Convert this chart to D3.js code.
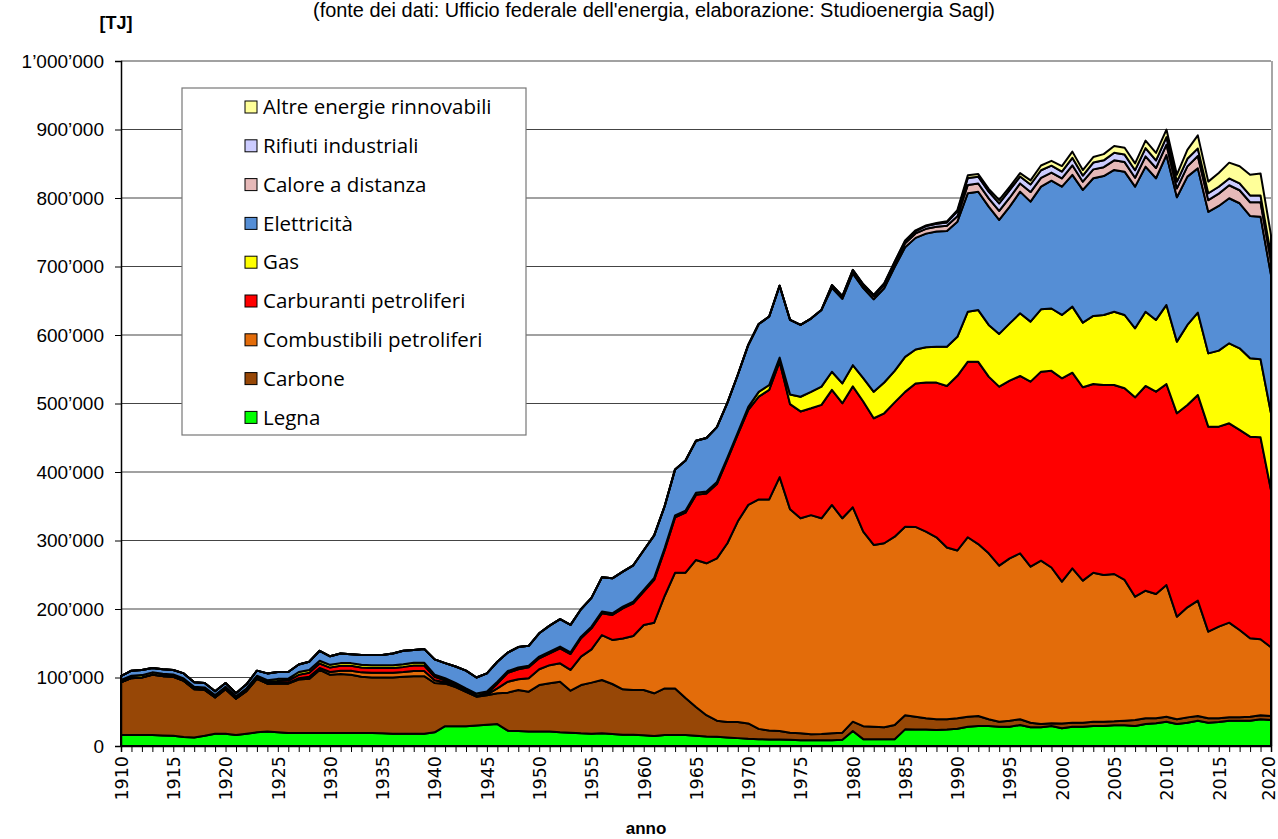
<!DOCTYPE html>
<html><head><meta charset="utf-8">
<script src="https://cdn.jsdelivr.net/npm/d3@7"></script>
<style>body{margin:0;background:#fff} svg{display:block}</style>
</head><body>
<svg id="chart" width="1278" height="839"></svg>
<script>
// values in thousand TJ
const years = d3.range(1910, 2021);
const legna = [16,16,16,16,15.5,15,13,12.5,15,18, 18,16,18,20,21,20,19,19,19,19, 19,19,19,19,19,18.5,18,18,18,18,
 20,29,29,29,30,31,32,22.4,22,21, 21,21,20,19.5,18.5,18,18.5,17.5,16.5,16.5, 15.6,14.6,16,16,16,15,14,13.5,12.5,11.5,
 10.5,10,9.5,9.5,9,8.5,8.5,8.5,8.5,9, 22,10,10,10,10,24.3,24,24,23.5,24, 25.3,28.2,29.2,29.2,28.2,28.2,30.7,27.3,27.3,29.2,
 25.8,28.2,28.2,29.2,29.2,30.2,30.2,29.2,32.1,33.1, 35.5,32.1,34,37,34,35,37,37,37,39,38];
const carbone = [77,83,84,88,86.5,86,82,70.5,67,53, 65,53,62,78,70,71,72,78,79,92, 85,86,85,82,81,81.5,82,83,84,84,
 72,62,57,50,42,43,45,55.5,59.8,58.3, 68,70.5,73.9,61.3,70.5,74.5,77.9,73,66.2,65.3, 66.2,62.3,68,68,54,42,31,23.5,22.5,23.5,
 22.5,15,13,12.5,10.5,10,8.5,9,10,10.5, 13.5,19,18.2,17.3,20.7,20.7,18.8,16.4,15.4,14.9, 15.1,14.6,14.6,9.8,7.3,8.8,8.3,6.7,4.7,4,
 7.2,5.8,5.8,6.3,6.3,5.8,6.8,8.8,8.3,7.3, 7.3,6.9,7.8,6.8,6.4,5.4,4.8,4.8,5.8,6,5.8];
const combustibili = [0,0,0,0,0,0,0,0,0,0, 0,0,0,0,0,1,1,2,3,3, 4,5,6,6.5,7,7,7,7,7.5,7.5,
 4,2,1,0.5,0.5,1,7,16,15.5,19.5, 23,26.5,26.8,30.2,41.4,48.5,65.6,64.3,74.3,78.8, 94.9,103.1,135,169,183,214.6,221.7,237,261,293,
 319,335,337.5,370.5,326,313.9,320,314.9,333.4,312.9, 313,284,265.3,268.7,274.9,275,277,272.6,265.8,251,
 245,262,251,242.3,227.8,237,242.3,227.8,238.6,227.4, 206.9,225.4,207.4,217.5,214.2,215.1,205.4,180,186.3,181.5,
 192.2,149.8,160.7,168.4,126.5,133.8,138.3,127.6,114.4,110.8,100.3];
const carburanti = [0.5,0.5,0.5,0.5,0.5,0.5,0.5,0.5,0.5,0.5, 0.5,0.5,1,1.5,2,3,3.5,5,6,6.5, 6.5,7,7,7,7,7,7,7.5,8,8,
 5,3,2,1.5,1,1.5,7,13,14.7,16, 16,17.3,22,23.3,26.8,30.8,31.7,36.5,44,47.7, 48.6,62.4,67,80.8,87.7,95,102,108.5,122,127,
 138.6,150,160,168.5,153.5,156,156,165.6,168,168, 176.5,190,185,189.7,196,197,209.5,217.5,225.8,235.6,
 255,256.3,266,257.9,261.3,259.4,258.9,270.1,275.9,287.1, 296.9,285.6,282.3,275.5,277.3,275.9,279.8,291,298.9,295.4,
 293.5,296.9,295.4,300.3,299.3,292,291,292,294.4,294.8,229.7];
const gas = [3,3,3,3,3,3,3,3,3,3, 3,3,3,3,3,3,3,4,4,4, 4,4,4,4,4,4,4,4,4,4,
 3,3,3,3,3,3,3,2.5,2.5,2.5, 2.5,2.5,2.5,2.5,2.5,2.5,2.5,2.5,2.5,2.5, 2.5,3,3,3,3,3,3,3,3,3,
 4.4,7,7,6,14,21.5,24,26.6,26.5,29, 31,34,38.6,45,46,51,49.5,51.5,52.5,57.4,
 57,73,75.6,75.5,77,83.6,91.5,87.6,91,91, 92.5,96.4,94.3,99.3,102.3,107,107,100.8,108.4,104.7,
 115.4,104.6,116.8,120.2,107,111,116.8,119.2,114.4,114,111.9];
const elettricita = [5.5,7.5,7.5,6.5,6.5,6.5,7.5,6.5,6.5,5.5, 5.5,4.5,6,7.5,10,10,9.5,11,12,14.5, 12.5,14,13,14.5,15,15,17,19.5,18.5,20,
 22.5,22,24,26,23.5,26.5,29,27,30,29, 34,38,40,40,40,42,50,51,51,53, 58,62,61,67,73,76,78,80,80,84,
 90.5,99,100,105,109,105,107,112,122.5,123.5, 134,131.5,135,137.5,151.5,160,163,166,168,169,
 168,173,172.7,172.7,166.5,170.4,177.6,175.2,179,186.5, 187.3,192.3,193.8,201,202.7,207,209.2,206.8,211.8,206.8,
 219,210.7,216.5,210.7,206.7,211.2,211.7,211.7,207.8,208.2,202];
const zeros68 = Array(68).fill(0);
const calore = zeros68.concat([3,3,4,4,4.5,5,5,6,6.5,7,7,7.5,
 8,12,12,12,13,13,12,14,13,12, 12,14,12,13,13,14,14,13,15,15, 15,13,15,18,17,18,19,19,20,21,20]);
const rifiuti = zeros68.concat([1,1,1,1.5,2,2,2.5,3,3.5,4,4.5,5,
 7,10,10,10,11,11,10,11,11,10, 10,11,9,10,10,11,11,11,12,11, 11,10,11,11,10,10,10,10,10,10,9]);
const altre = Array(74).fill(0).concat([0.5,1,1,1,1,1.5,
 2,4,4,4,5,5,5,6,7,7, 8,9,8,8,9,10,10,10,11,11, 11,10,13,19,17,20,23,25,30,32,29]);

const seriesNames = ["Legna","Carbone","Combustibili petroliferi","Carburanti petroliferi","Gas","Elettricità","Calore a distanza","Rifiuti industriali","Altre energie rinnovabili"];
const seriesValues = [legna, carbone, combustibili, carburanti, gas, elettricita, calore, rifiuti, altre];
const seriesColors = ["#00ff00","#974706","#e36c0a","#ff0000","#ffff00","#558ed5","#e6b9b8","#ccccff","#ffff99"];
const yTickValues = [0,100,200,300,400,500,600,700,800,900,1000];
const yTickLabels = ["0","100’000","200’000","300’000","400’000","500’000","600’000","700’000","800’000","900’000","1’000’000"];
const xLabelYears = d3.range(1910, 2021, 5);

const table = years.map((yr, i) => {
  const row = {year: yr};
  seriesNames.forEach((n, k) => row[n] = seriesValues[k][i]);
  return row;
});

const svg = d3.select("#chart");
const x = d3.scaleLinear().domain([1910, 2020]).range([121, 1271]);
const y = d3.scaleLinear().domain([0, 1000]).range([746, 61]);
const narrow = "Liberation Sans Narrow, Liberation Sans, sans-serif";

// gridlines
svg.append("g").selectAll("line").data(yTickValues.filter(v => v > 0)).join("line")
  .attr("x1", x(1910)).attr("x2", x(2020)).attr("y1", d => y(d)).attr("y2", d => y(d))
  .attr("stroke", "#444").attr("stroke-width", 1.2);
svg.append("line").attr("x1", x(2020)+1).attr("x2", x(2020)+1).attr("y1", y(1000)).attr("y2", y(0))
  .attr("stroke", "#888").attr("stroke-width", 1.5);

// stacked areas
const stack = d3.stack().keys(seriesNames);
const layers = stack(table);
const area = d3.area().x(d => x(d.data.year)).y0(d => y(d[0])).y1(d => y(d[1]));
svg.append("g").selectAll("path").data(layers).join("path")
  .attr("d", area)
  .attr("fill", (d, i) => seriesColors[i])
  .attr("stroke", "#000").attr("stroke-width", 2).attr("stroke-linejoin", "round");

// axes
const yAxis = d3.axisLeft(y).tickValues(yTickValues).tickSize(6).tickFormat((d, i) => yTickLabels[i]);
const gy = svg.append("g").attr("transform", `translate(${x(1910)},0)`).call(yAxis);
gy.select(".domain").attr("stroke", "#000").attr("stroke-width", 1.5);
gy.selectAll(".tick line").attr("stroke", "#000");
gy.selectAll("text").attr("font-family", narrow)
  .attr("font-size", 19).attr("fill", "#000").attr("x", -17);

const xAxis = d3.axisBottom(x).tickValues(years).tickSize(6).tickFormat(d => xLabelYears.includes(d) ? String(d) : "");
const gx = svg.append("g").attr("transform", `translate(0,${y(0)})`).call(xAxis);
gx.select(".domain").attr("stroke", "#000").attr("stroke-width", 1.5);
gx.selectAll(".tick line").attr("stroke", "#000");
gx.selectAll("text").attr("font-family", "DejaVu Sans, sans-serif").attr("font-size", 17.5).attr("fill", "#000")
  .attr("transform", "rotate(-90)").attr("text-anchor", "end").attr("x", -10)
  .attr("y", d => d === 2020 ? -3 : 0).attr("dy", "0.36em");

// legend
const lg = svg.append("g");
lg.append("rect").attr("x", 182).attr("y", 88).attr("width", 344).attr("height", 347)
  .attr("fill", "#fff").attr("stroke", "#777").attr("stroke-width", 1.2);
const legendOrder = seriesNames.map((n, i) => i).reverse();
legendOrder.forEach((k, j) => {
  const cy = 107 + j * 38.8;
  lg.append("rect").attr("x", 245).attr("y", cy - 6).attr("width", 12).attr("height", 12)
    .attr("fill", seriesColors[k]).attr("stroke", "#000").attr("stroke-width", 1);
  lg.append("text").attr("x", 263).attr("y", cy).attr("dy", "0.35em")
    .attr("font-family", "Open Sans, sans-serif").attr("font-size", 20.5).attr("fill", "#000")
    .text(seriesNames[k]);
});

// titles
svg.append("text").attr("x", 654).attr("y", 17).attr("text-anchor", "middle")
  .attr("font-family", narrow).attr("font-size", 20)
  .attr("textLength", 682).attr("lengthAdjust", "spacingAndGlyphs")
  .text("(fonte dei dati: Ufficio federale dell'energia, elaborazione: Studioenergia Sagl)");
svg.append("text").attr("x", 116).attr("y", 29).attr("text-anchor", "middle")
  .attr("font-family", narrow).attr("font-size", 18).attr("font-weight", "bold")
  .text("[TJ]");
svg.append("text").attr("x", 646).attr("y", 834).attr("text-anchor", "middle")
  .attr("font-family", narrow).attr("font-size", 17).attr("font-weight", "bold")
  .text("anno");
</script>
</body></html>
